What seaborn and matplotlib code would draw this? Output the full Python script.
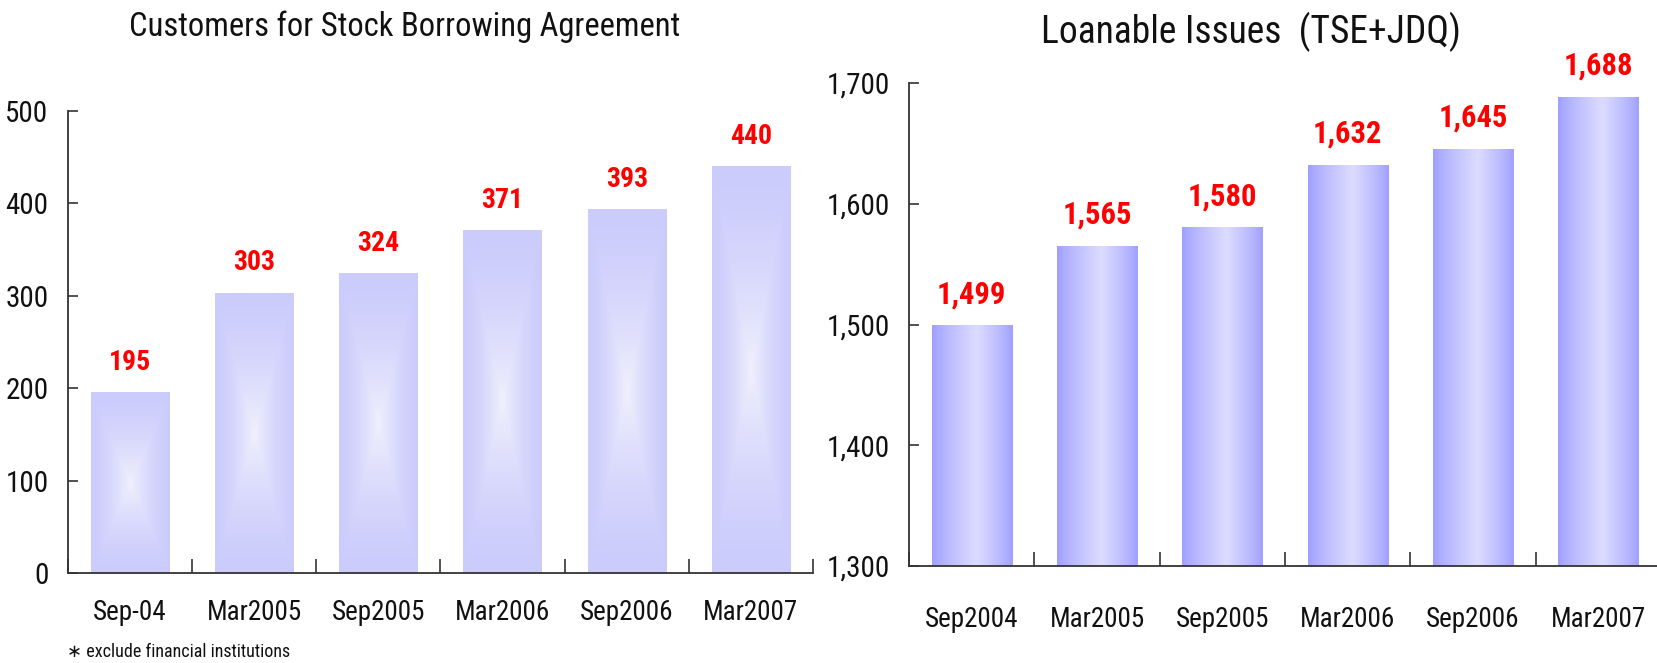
import numpy as np
import seaborn as sns
import matplotlib
matplotlib.use("Agg")
import matplotlib.pyplot as plt
from matplotlib.ticker import FuncFormatter, MultipleLocator, FixedLocator

# data
left_cats = ["Sep-04", "Mar2005", "Sep2005", "Mar2006", "Sep2006", "Mar2007"]
left_vals = [195, 303, 324, 371, 393, 440]
right_cats = ["Sep2004", "Mar2005", "Sep2005", "Mar2006", "Sep2006", "Mar2007"]
right_vals = [1499, 1565, 1580, 1632, 1645, 1688]

sns.set_style("white")
plt.rcParams["font.family"] = ["Roboto Condensed", "DejaVu Sans"]

W, H = 1657, 663
fig = plt.figure(figsize=(W / 100, H / 100), dpi=100)

ax1 = fig.add_axes([68 / W, 1 - 573 / H, 745 / W, (573 - 111) / H])
ax2 = fig.add_axes([909 / W, 1 - 566 / H, 752 / W, (566 - 83) / H])


def box_gradient(n=200):
    # light centre fading to darker edges, rectangular contours
    u = np.abs(np.linspace(-1, 1, n))
    t = np.maximum(u[None, :], u[:, None])
    k = (1 - t) ** 1.6
    edge = np.array([204, 204, 252]) / 255
    mid = np.array([240, 240, 253]) / 255
    return edge + (mid - edge) * k[..., None]


def side_gradient(n=200):
    s = np.linspace(0, 1, n)
    k = np.where(s < 0.55, s / 0.55, (1 - s) / 0.45) ** 0.8
    edge = np.array([158, 158, 255]) / 255
    mid = np.array([220, 220, 255]) / 255
    img = edge + (mid - edge) * k[:, None]
    return np.repeat(img[None, :, :], 4, axis=0)


def style_axis(ax, cats, xpad):
    for side in ["top", "right"]:
        ax.spines[side].set_visible(False)
    for side in ["left", "bottom"]:
        ax.spines[side].set_color("#333333")
        ax.spines[side].set_linewidth(1.3)
    ax.set_xlim(-0.5, len(cats) - 0.5)
    ax.xaxis.set_minor_locator(FixedLocator(np.arange(-0.5, len(cats), 1.0)))
    ax.tick_params(axis="x", which="major", length=0, labelsize=19.5, pad=xpad,
                   labelcolor="#111111")
    ax.tick_params(axis="x", which="minor", direction="in", length=10, width=1.2,
                   color="#333333", bottom=True)
    ax.tick_params(axis="y", direction="in", length=7, width=1.2, color="#333333",
                   labelsize=21, pad=14, left=True, labelcolor="#111111")
    ax.set_xlabel("")
    ax.set_ylabel("")


def shade_bars(ax, grad):
    ylim = ax.get_ylim()
    xlim = ax.get_xlim()
    for p in ax.patches:
        x, y = p.get_x(), p.get_y()
        w, h = p.get_width(), p.get_height()
        ax.imshow(grad, extent=[x, x + w, y, y + h], aspect="auto",
                  interpolation="bilinear", zorder=2)
        p.set_facecolor("none")
        p.set_edgecolor("none")
    ax.set_ylim(ylim)
    ax.set_xlim(xlim)


def value_labels(ax, vals, fmt, size):
    for i, v in enumerate(vals):
        ax.annotate(fmt.format(v), (i, v), xytext=(0, 12), textcoords="offset points",
                    ha="center", va="bottom", color="#FF0000", fontsize=size,
                    fontweight="bold", zorder=5, annotation_clip=False)


# left chart
sns.barplot(x=left_cats, y=left_vals, ax=ax1, width=0.63, color="#CCCCFC")
ax1.set_ylim(0, 500)
ax1.yaxis.set_major_locator(MultipleLocator(100))
style_axis(ax1, left_cats, 19)
shade_bars(ax1, box_gradient())
value_labels(ax1, left_vals, "{:d}", 20)

# right chart
sns.barplot(x=right_cats, y=right_vals, ax=ax2, width=0.64, color="#A0A0FF")
ax2.set_ylim(1300, 1700)
ax2.yaxis.set_major_locator(MultipleLocator(100))
ax2.yaxis.set_major_formatter(FuncFormatter(lambda v, _: f"{int(v):,}"))
style_axis(ax2, right_cats, 29)
shade_bars(ax2, side_gradient())
value_labels(ax2, right_vals, "{:,}", 22)

fig.text(405 / W, 1 - 27 / H, "Customers for Stock Borrowing Agreement",
         ha="center", va="center", fontsize=23.5, color="#111111")
fig.text(1251 / W, 1 - 32 / H, "Loanable Issues  (TSE+JDQ)",
         ha="center", va="center", fontsize=27, color="#111111")
fig.text(67 / W, 1 - 652 / H, "\u2217 exclude financial institutions",
         ha="left", va="center", fontsize=13, color="#111111")

fig.savefig("out.png", dpi=100, facecolor="white")
